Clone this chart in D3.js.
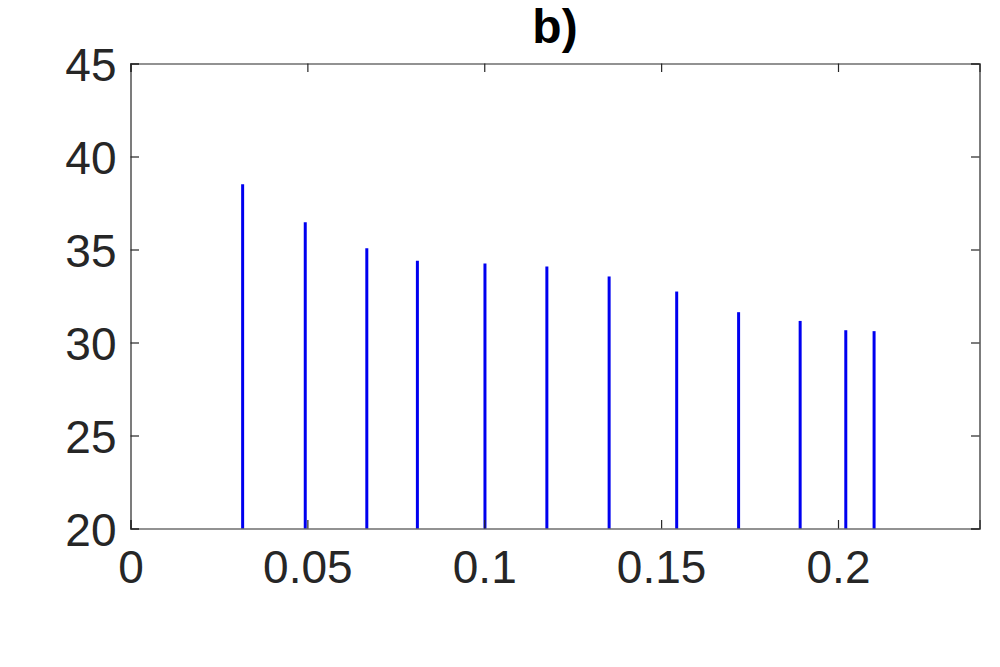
<!DOCTYPE html>
<html>
<head>
<meta charset="utf-8">
<script src="https://cdn.jsdelivr.net/npm/d3@7"></script>
<style>
  html, body { margin: 0; padding: 0; background: #fff; }
  svg { display: block; }
</style>
</head>
<body>
<svg id="chart" width="1000" height="667"></svg>
<script>
const xValues = [0.0317, 0.0494, 0.0668, 0.0811, 0.1002, 0.1177, 0.1353, 0.1544, 0.1719, 0.1893, 0.2022, 0.2102];
const yValues = [38.51, 36.47, 35.07, 34.39, 34.25, 34.08, 33.55, 32.74, 31.63, 31.16, 30.66, 30.61];
const xTicks = [0, 0.05, 0.1, 0.15, 0.2];
const yTicks = [20, 25, 30, 35, 40, 45];
const titleText = "b)";

const svg = d3.select("#chart");
const L = 130.5, R = 979.5, T = 63.5, B = 528.5;
const axisColor = "#262626";
const font = "'Liberation Sans', Arial, Helvetica, sans-serif";

const x = d3.scaleLinear().domain([0, 0.24]).range([L, R]);
const y = d3.scaleLinear().domain([20, 45]).range([B, T]);

// stems
svg.append("g").selectAll("line").data(xValues).join("line")
  .attr("x1", d => x(d)).attr("x2", d => x(d))
  .attr("y1", y(20)).attr("y2", (d, i) => y(yValues[i]))
  .attr("stroke", "#0000f0").attr("stroke-width", 3);

const tickLen = 8.5;

// bottom axis
const gx = svg.append("g").attr("transform", `translate(0,${B})`)
  .call(d3.axisBottom(x).tickValues(xTicks).tickSize(-tickLen).tickPadding(22).tickFormat(d => String(+d)));
// top axis (ticks only)
const gxt = svg.append("g").attr("transform", `translate(0,${T})`)
  .call(d3.axisTop(x).tickValues(xTicks).tickSize(-tickLen).tickFormat(""));
// left axis
const gy = svg.append("g").attr("transform", `translate(${L},0)`)
  .call(d3.axisLeft(y).tickValues(yTicks).tickSize(-tickLen).tickPadding(14).tickFormat(d => String(d)));
// right axis (ticks only)
const gyr = svg.append("g").attr("transform", `translate(${R},0)`)
  .call(d3.axisRight(y).tickValues(yTicks).tickSize(-tickLen).tickFormat(""));

[gx, gxt, gy, gyr].forEach(g => {
  g.select(".domain").attr("stroke", axisColor).attr("stroke-width", 1.2);
  g.selectAll(".tick line").attr("stroke", axisColor).attr("stroke-width", 1.2);
  g.selectAll(".tick text").attr("fill", axisColor)
    .style("font-family", font).style("font-size", "46px");
});
gx.selectAll(".tick text").attr("dy", "0.71em");
gy.selectAll(".tick text").attr("dy", "0.36em");

// title
svg.append("text")
  .attr("x", (L + R) / 2).attr("y", 43)
  .attr("text-anchor", "middle")
  .style("font-family", font).style("font-size", "48px").style("font-weight", "bold")
  .attr("fill", "#000")
  .text(titleText);
</script>
</body>
</html>
